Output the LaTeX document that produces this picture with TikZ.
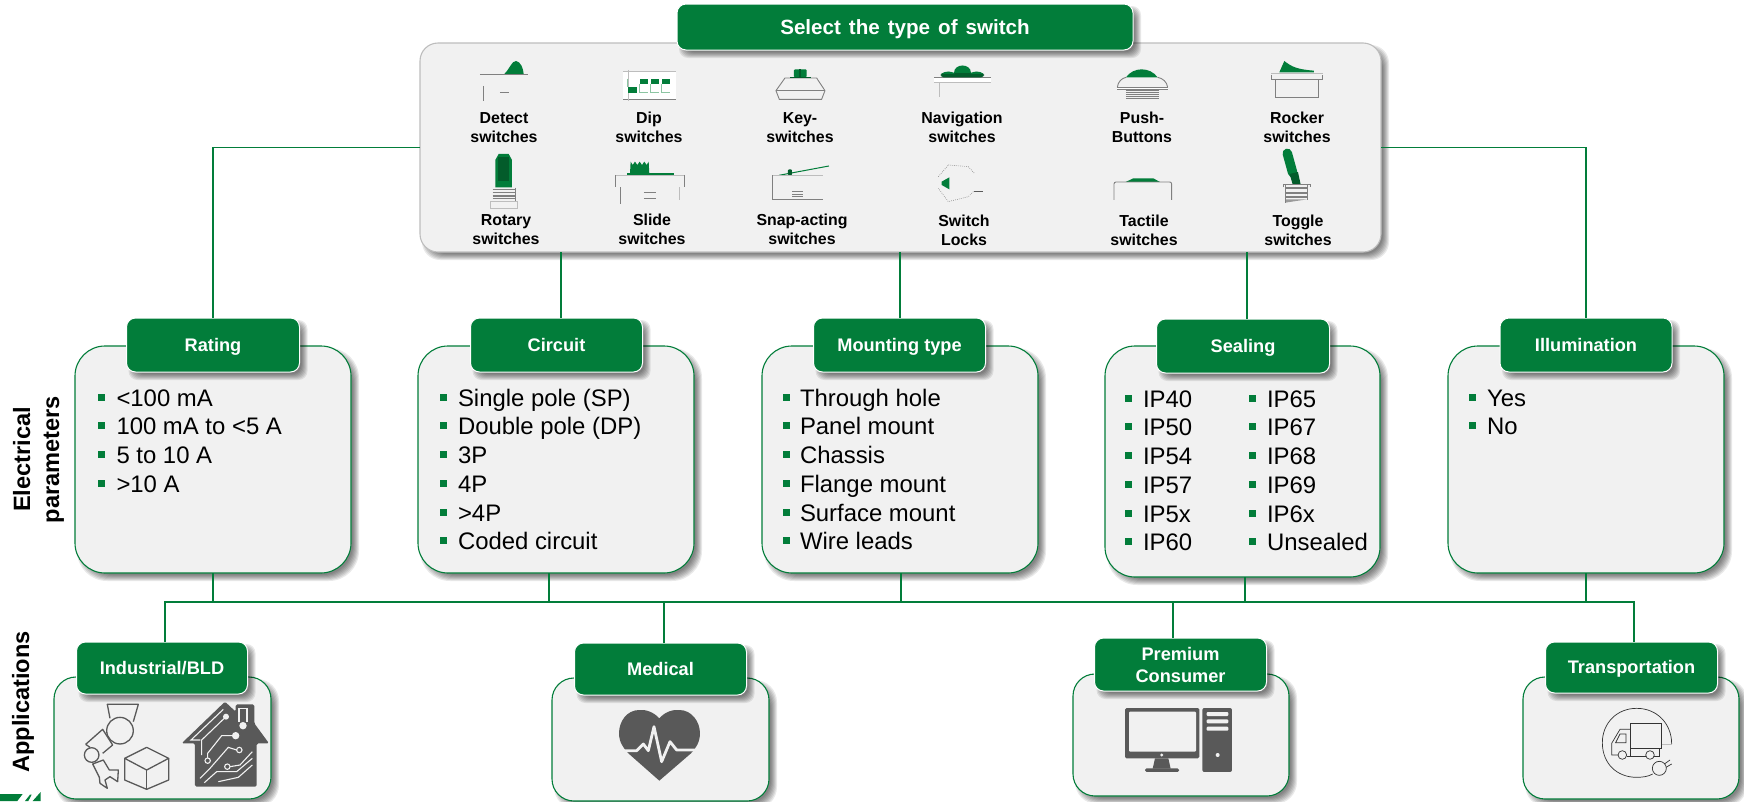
\documentclass[tikz,border=0pt]{standalone}
\usepackage{fontspec}
\setmainfont{Liberation Sans}
\usetikzlibrary{calc}
\definecolor{gr}{HTML}{027D3A}
\definecolor{grd}{HTML}{035C2B}
\definecolor{grl}{HTML}{8CC5A2}
\definecolor{pnl}{HTML}{F1F1F1}
\definecolor{dk}{HTML}{595959}
\definecolor{gy}{HTML}{808080}
\definecolor{gyl}{HTML}{BDBDBD}
\newcommand{\softshadow}[5]{%
  \foreach \k in {-3,-2,...,3}{%
    \fill[black,fill opacity=0.085,rounded corners=#5pt]
      ({#1+5-\k},{#2+5-\k}) rectangle ({#3+5+\k},{#4+5+\k});
  }%
}
\newcommand{\card}[8]{%
  \softshadow{#2}{#3}{#4}{#5}{#6}%
  \pgfmathsetmacro\cw{#4-#2}%
  \pgfmathsetmacro\ch{#5-#3}%
  \node[#7,minimum width=\cw pt,minimum height=\ch pt,rounded corners=#6pt] (#1) at ({(#2+#4)/2},{(#3+#5)/2}) {#8};%
}
\newcommand{\blist}[5]{%
  \foreach \t [count=\i from 0] in {#5}{%
    \pgfmathsetmacro\yy{#4+28.75*\i}%
    \fill[gr] (#2,\yy-12.5) rectangle (#2+7,\yy-5.5);
    \node[listitem,anchor=base west] (#1\i) at (#3,\yy) {\t};
  }%
}
\tikzset{
  x=1pt,y=-1pt,
  every node/.style={inner sep=0pt,outer sep=0pt},
  bigpanel/.style={draw=gr,line width=1.1pt,fill=pnl},
  mainpanel/.style={draw=gyl,line width=1.1pt,fill=pnl},
  tabbox/.style={draw=white,line width=1pt,fill=gr,text=white,align=center,font=\fontsize{18.2}{22}\selectfont\bfseries},
  tabtext/.style={text height=12.8pt,text depth=0pt},
  titletext/.style={text height=15pt,text depth=0pt,font=\fontsize{20.6}{24}\selectfont\bfseries},
  iconlab/.style={align=center,anchor=south,font=\fontsize{15.9}{19}\selectfont\bfseries},
  listitem/.style={font=\fontsize{23.9}{28}\selectfont},
  sidelab/.style={rotate=90,anchor=base,font=\fontsize{23.6}{28}\selectfont\bfseries},
  link/.style={draw=gr,line width=1.5pt},
  zview/.style={x=0.3333pt,y=-0.3333pt},
  ic/.style={draw=gy,line width=0.9pt},
  icl/.style={draw=gyl,line width=0.9pt},
  ind/.style={draw=dk,line width=1.3pt,line join=round},
}
\begin{document}
\begin{tikzpicture}
\useasboundingbox (0,0) rectangle (1744,801);
\fill[white] (0,0) rectangle (1744,801);

% logo fragment
\begin{scope}[shift={(0,770)},zview]
\fill[gr] (0,72) -- (68,72) -- (52,93) -- (0,93) -- cycle;
\fill[gr] (75,93) -- (90,74) -- (95,74) -- (85,93) -- cycle;
\fill[gr] (122,66) -- (122,93) -- (98,93) -- cycle;
\end{scope}

% main panel and title
\card{main}{420}{43}{1381}{252}{18}{mainpanel}{}
\card{title}{677}{4}{1133}{50}{9}{tabbox,titletext}{\spaceskip=8pt\relax Select the type of switch}

% parameter panels
\card{pRating}{75}{346}{351}{573}{30}{bigpanel}{}
\card{tRating}{126.5}{318}{299.5}{372}{9}{tabbox,tabtext}{Rating}
\card{pCircuit}{418}{346}{694}{573}{30}{bigpanel}{}
\card{tCircuit}{470.5}{318}{642.5}{372}{9}{tabbox,tabtext}{Circuit}
\card{pMount}{762}{346}{1038}{573}{30}{bigpanel}{}
\card{tMount}{813.5}{318}{985.5}{372}{9}{tabbox,tabtext}{Mounting type}
\card{pSeal}{1105}{346}{1380}{577}{30}{bigpanel}{}
\card{tSeal}{1156.5}{319}{1329.5}{373}{9}{tabbox,tabtext}{Sealing}
\card{pIllum}{1448}{346}{1724}{573}{30}{bigpanel}{}
\card{tIllum}{1500}{318}{1672}{372}{9}{tabbox,tabtext}{Illumination}

% application panels
\card{pInd}{54}{677}{271}{799}{22}{bigpanel}{}
\card{tInd}{76.5}{642}{247.5}{694}{9}{tabbox,tabtext}{Industrial/BLD}
\card{pMed}{552}{678}{769}{801}{22}{bigpanel}{}
\card{tMed}{574.5}{643}{746.5}{695}{9}{tabbox,tabtext}{Medical}
\card{pPrem}{1073}{674}{1289}{796}{22}{bigpanel}{}
\card{tPrem}{1094.5}{638}{1266.5}{691}{9}{tabbox}{Premium\\Consumer}
\card{pTrans}{1523}{677}{1739}{799}{22}{bigpanel}{}
\card{tTrans}{1545.5}{642}{1717.5}{693}{9}{tabbox,tabtext}{Transportation}

% connectors
\coordinate (upCircuit) at (561,318);
\coordinate (upMount) at (900,318);
\coordinate (upSeal) at (1247,319);
\coordinate (busA) at (165,602);
\coordinate (busB) at (1634,602);
\coordinate (dnCircuit) at (549,602);
\coordinate (dnMount) at (901,602);
\coordinate (dnSeal) at (1245,602);
\coordinate (dnMed) at (664,602);
\coordinate (dnPrem) at (1173,602);
\draw[link] (main.west) -| (tRating.north);
\draw[link] (main.east) -| (tIllum.north);
\draw[link] (main.south -| upCircuit) -- (upCircuit);
\draw[link] (main.south -| upMount) -- (upMount);
\draw[link] (main.south -| upSeal) -- (upSeal);
\draw[link] (tInd.north -| busA) -- (busA) -- (busB) -- (tTrans.north -| busB);
\draw[link] (pRating.south) -- (pRating.south |- busA);
\draw[link] (pCircuit.south -| dnCircuit) -- (dnCircuit);
\draw[link] (pMount.south -| dnMount) -- (dnMount);
\draw[link] (pSeal.south -| dnSeal) -- (dnSeal);
\draw[link] (pIllum.south) -- (pIllum.south |- busA);
\draw[link] (dnMed) -- (tMed.north -| dnMed);
\draw[link] (dnPrem) -- (tPrem.north -| dnPrem);

% side labels
\node[sidelab] (sElec) at (30,459.5) {Electrical};
\node[sidelab] (sPar) at (59,459.5) {parameters};
\node[sidelab] (sApp) at (29,702) {Applications};

% lists
\blist{la}{98}{116.5}{406}{<100 mA,100 mA to <5 A,5 to 10 A,>10 A}
\blist{lb}{440}{458}{406}{Single pole (SP),Double pole (DP),3P,4P,>4P,Coded circuit}
\blist{lc}{783}{800}{406}{Through hole,Panel mount,Chassis,Flange mount,Surface mount,Wire leads}
\blist{ld}{1125}{1143}{407}{IP40,IP50,IP54,IP57,IP5x,IP60}
\blist{le}{1249}{1267}{407}{IP65,IP67,IP68,IP69,IP6x,Unsealed}
\blist{lf}{1469}{1487}{406}{Yes,No}

% icon labels
\node[iconlab] (n1) at (504,143) {Detect\\switches};
\node[iconlab] (n2) at (649,143) {Dip\\switches};
\node[iconlab] (n3) at (800,143) {Key-\\switches};
\node[iconlab] (n4) at (962,143) {Navigation\\switches};
\node[iconlab] (n5) at (1142,143) {Push-\\Buttons};
\node[iconlab] (n6) at (1297,143) {Rocker\\switches};
\node[iconlab] (n7) at (506,245) {Rotary\\switches};
\node[iconlab] (n8) at (652,245) {Slide\\switches};
\node[iconlab] (n9) at (802,245) {Snap-acting\\switches};
\node[iconlab] (n10) at (964,246) {Switch\\Locks};
\node[iconlab] (n11) at (1144,246) {Tactile\\switches};
\node[iconlab] (n12) at (1298,246) {Toggle\\switches};

% switch icons, left part
\begin{scope}[shift={(410,0)},zview]
% detect
\draw[ic] (210,222) -- (353,222);
\fill[gr] (283,222) .. controls (300,205) and (305,183) .. (318,183) .. controls (332,185) and (340,205) .. (341,222) -- cycle;
\draw[ic] (220,258) -- (220,302);
\draw[ic] (270,277) -- (297,277);
% dip
\fill[white] (640,213) rectangle (798,298);
\draw[ic] (640,298) -- (798,298);
\draw[gyl] (640,213) -- (798,213);
\draw[gyl] (655,210) -- (655,302);
\draw[grl,line width=0.8pt] (652,236) -- (652,262);
\foreach \a in {687,720,753}{\draw[grl,line width=0.8pt] (\a,252) -- (\a,278) -- (\a+28,278);}
\fill[gr] (653,262) rectangle (680,278);
\fill[gr] (689,236) rectangle (713,252);
\fill[gr] (722,236) rectangle (747,252);
\fill[gr] (755,236) rectangle (780,252);
% key
\draw[ic] (1125,234) -- (1220,234) -- (1245,272) -- (1235,298) -- (1108,298) -- (1098,272) -- cycle;
\draw[ic] (1098,272) -- (1245,272);
\fill[gr,rounded corners=1pt] (1152,232) -- (1152,208) -- (1190,208) -- (1190,232) -- cycle;
\fill[grd] (1140,230) rectangle (1203,234);
\fill[grd] (1168,208) rectangle (1174,232);
% rotary
\fill[gr] (256,562) -- (256,480) -- (266,462) -- (296,462) -- (306,480) -- (306,562) -- cycle;
\fill[grd] (265,472) rectangle (298,542);
\foreach \a in {568,578,588,596}{\draw[gy,line width=1.4pt] (248,\a) -- (318,\a);}
\draw[ic] (317,563) -- (317,603);
\draw[gyl] (240,625) -- (240,605) -- (323,605) -- (323,625) -- cycle;
% slide
\fill[gr] (660,522) -- (662,485) -- (668,495) -- (675,485) -- (682,495) -- (689,485) -- (696,495) -- (703,485) -- (710,495) -- (716,485) -- (718,522) -- cycle;
\fill[gr] (652,520) rectangle (792,526);
\draw[icl] (616,525) -- (824,525);
\draw[ic] (616,525) -- (616,562);
\draw[ic] (824,525) -- (824,562);
\draw[ic] (631,562) -- (631,612);
\draw[icl] (808,562) -- (808,600);
\draw[ic] (702,577) -- (738,577);
\draw[ic] (702,594) -- (738,594);
% snap
\draw[gr,line width=1pt] (1107,526) -- (1257,498);
\fill[grd,rounded corners=1pt] (1134,526) rectangle (1146,508);
\draw[icl] (1087,526) -- (1238,526);
\draw[ic] (1087,526) -- (1087,598) -- (1238,598);
\foreach \a in {574,582,590}{\draw[gy,line width=0.6pt] (1147,\a) -- (1178,\a);}
\end{scope}

% switch icons, right part
\begin{scope}[shift={(880,0)},zview]
% navigation
\fill[white] (162,232) rectangle (332,247);
\draw[ic] (162,232) -- (332,232);
\draw[icl] (162,247) -- (332,247);
\fill[grd,rounded corners=3pt] (182,232) -- (182,218) -- (312,218) -- (312,232) -- cycle;
\fill[gr] (222,220) .. controls (222,190) and (272,190) .. (272,220) -- cycle;
\fill[gr] (185,222) .. controls (195,212) and (215,212) .. (225,222) -- cycle;
\fill[gr] (270,222) .. controls (280,212) and (300,212) .. (310,222) -- cycle;
\draw[icl] (177,247) -- (177,290);
% push
\draw[ic] (712,262) .. controls (714,245) and (725,235) .. (738,232);
\draw[ic] (833,232) .. controls (848,235) and (861,245) .. (863,262);
\fill[white] (712,262) rectangle (863,268);
\draw[ic] (712,262) -- (863,262);
\draw[ic] (712,268) -- (863,268);
\fill[gr] (738,232) .. controls (760,200) and (810,200) .. (833,232) -- cycle;
\foreach \a in {272,278,284,290,296}{\draw[gy,line width=1.1pt] (738,\a) -- (836,\a);}
% rocker
\fill[gr] (1198,217) -- (1213,183) .. controls (1235,200) and (1250,208) .. (1302,212) -- (1302,217) -- cycle;
\draw[ic] (1174,224) -- (1174,237) -- (1328,237) -- (1328,224);
\draw[icl] (1174,220) -- (1328,220);
\draw[ic] (1186,237) -- (1186,292) -- (1316,292) -- (1316,237);
% switch lock
\draw[gy,dash pattern=on 0.7pt off 1.3pt,line width=0.6pt] (205,495) -- (265,500) -- (285,522);
\draw[gy,dash pattern=on 0.7pt off 1.3pt,line width=0.6pt] (280,575) -- (265,590) -- (205,605) -- (175,565);
\draw[gy,dash pattern=on 0.7pt off 1.3pt,line width=0.6pt] (175,530) -- (205,495);
\draw[dk,line width=0.8pt] (283,574) -- (308,574);
\fill[gr] (185,545) -- (208,532) -- (208,568) -- (185,555) -- cycle;
% tactile
\fill[gr] (737,546) -- (760,535) -- (820,535) -- (840,546) -- cycle;
\draw[ic,rounded corners=2pt] (702,600) -- (702,546) -- (875,546) -- (875,600);
% toggle
\draw[gr,line width=9.5pt,line cap=round] (1222,460) -- (1238,518);
\fill[grd] (1229,522) -- (1254,516) -- (1262,553) -- (1238,553) -- cycle;
\draw[ic] (1210,562) -- (1210,553) -- (1290,553) -- (1290,562);
\foreach \a in {564,578,592}{\draw[gy,line width=2pt] (1216,\a) -- (1282,\a);}
\fill[gy!80] (1216,598) -- (1282,598) -- (1216,608) -- cycle;
\draw[ic] (1216,555) -- (1216,608);
\draw[ic] (1282,555) -- (1282,600);
\end{scope}

% robot arm and box
\begin{scope}[shift={(50,690)},zview]
\draw[ind] (180,85) -- (172,43) -- (265,43) -- (250,95);
\draw[ind] (210,122) circle (13.3pt);
\draw[ind] (107,163) -- (158,118) -- (188,165) -- (158,190);
\draw[ind] (107,163) -- (120,172);
\draw[ind] (125,195) circle (7.3pt);
\draw[ind] (128,222) -- (160,210) -- (178,240) -- (205,240) -- (203,275) -- (180,260) -- (165,270) -- (172,295) -- (150,280) -- (148,262) -- cycle;
\draw[ind] (290,172) -- (224,205) -- (290,240) -- (356,205) -- cycle;
\draw[ind] (224,205) -- (224,270) -- (290,298) -- (356,270) -- (356,205);
\draw[ind] (290,240) -- (290,298);
\end{scope}

% circuit house
\begin{scope}[shift={(165,690)},zview]
\fill[dk,rounded corners=1.5pt] (180,35) -- (212,65) -- (212,43) -- (268,43) -- (268,100) -- (312,160) -- (275,160) -- (275,290) -- (90,290) -- (90,160) -- (50,160) -- cycle;
\begin{scope}[draw=pnl,line width=1.1pt]
\draw (175,58) -- (78,150) -- (106,150);
\draw (183,80) -- (110,150) -- (110,195);
\fill[pnl] (183,80) circle (3pt);
\draw (222,95) -- (222,55) -- (246,55) -- (246,95);
\fill[pnl] (234,107) circle (3.7pt);
\fill[pnl] (212,137) circle (3.7pt);
\draw (212,137) -- (170,137) -- (128,190) -- (128,204);
\draw[fill=dk] (128,212) circle (2.7pt);
\draw[fill=dk] (223,180) circle (2.7pt);
\draw (215,180) -- (190,172) -- (135,235) -- (105,265);
\draw[fill=dk] (187,230) circle (2.7pt);
\draw (195,230) -- (225,225) -- (262,185);
\draw (118,278) -- (155,245) -- (215,245) -- (262,205);
\draw (160,275) -- (220,262) -- (262,225);
\end{scope}
\end{scope}

% heart
\begin{scope}[shift={(530,620)},zview]
\fill[dk] (388,295) .. controls (370,275) and (345,268) .. (328,270) .. controls (290,270) and (267,305) .. (267,340) .. controls (267,365) and (280,385) .. (295,400) -- (388,482) -- (483,400) .. controls (498,385) and (510,365) .. (510,340) .. controls (510,305) and (485,270) .. (448,270) .. controls (430,268) and (405,275) .. (388,295) -- cycle;
\draw[pnl,line width=2.8pt,line join=round] (275,392) -- (320,392) -- (340,372) -- (355,392) -- (372,320) -- (395,425) -- (420,365) -- (440,390) -- (500,390);
\end{scope}

% computer
\begin{scope}[shift={(1050,620)},zview]
\fill[dk,rounded corners=1.5pt] (225,264) rectangle (448,415);
\fill[pnl,rounded corners=1pt] (237,275) rectangle (438,395);
\fill[pnl] (335,405) circle (1.6pt);
\fill[dk] (315,415) -- (355,415) -- (362,446) -- (308,446) -- cycle;
\fill[dk,rounded corners=1.5pt] (285,445) rectangle (387,456);
\fill[dk,rounded corners=2pt] (457,264) rectangle (546,456);
\fill[pnl,rounded corners=1pt] (470,276) rectangle (535,288);
\fill[pnl,rounded corners=1pt] (470,298) rectangle (535,310);
\fill[pnl,rounded corners=1pt] (470,320) rectangle (535,332);
\fill[pnl] (503,405) circle (2pt);
\end{scope}

% truck
\begin{scope}[shift={(1500,620)},zview]
\begin{scope}[draw=black!80,line width=0.7pt]
\draw (515,372) .. controls (515,310) and (470,265) .. (410,265) .. controls (350,265) and (307,310) .. (307,368) .. controls (307,430) and (350,472) .. (410,472) .. controls (425,472) and (445,470) .. (458,462);
\draw (392,310) rectangle (485,385);
\draw (392,328) -- (360,328) -- (335,370) -- (335,405) -- (355,405);
\draw (378,368) -- (347,368) -- (360,342) -- (378,342) -- cycle;
\draw (380,408) -- (437,408);
\draw (463,408) -- (478,408) -- (478,385);
\draw (392,385) -- (392,408);
\draw (367,405) circle (4.3pt);
\draw (450,405) circle (4.3pt);
\draw (478,445) circle (7pt);
\draw (493,432) -- (510,420);
\draw (498,442) -- (515,432);
\end{scope}
\draw[icl] (485,372) -- (515,372);
\end{scope}
\end{tikzpicture}
\end{document}
